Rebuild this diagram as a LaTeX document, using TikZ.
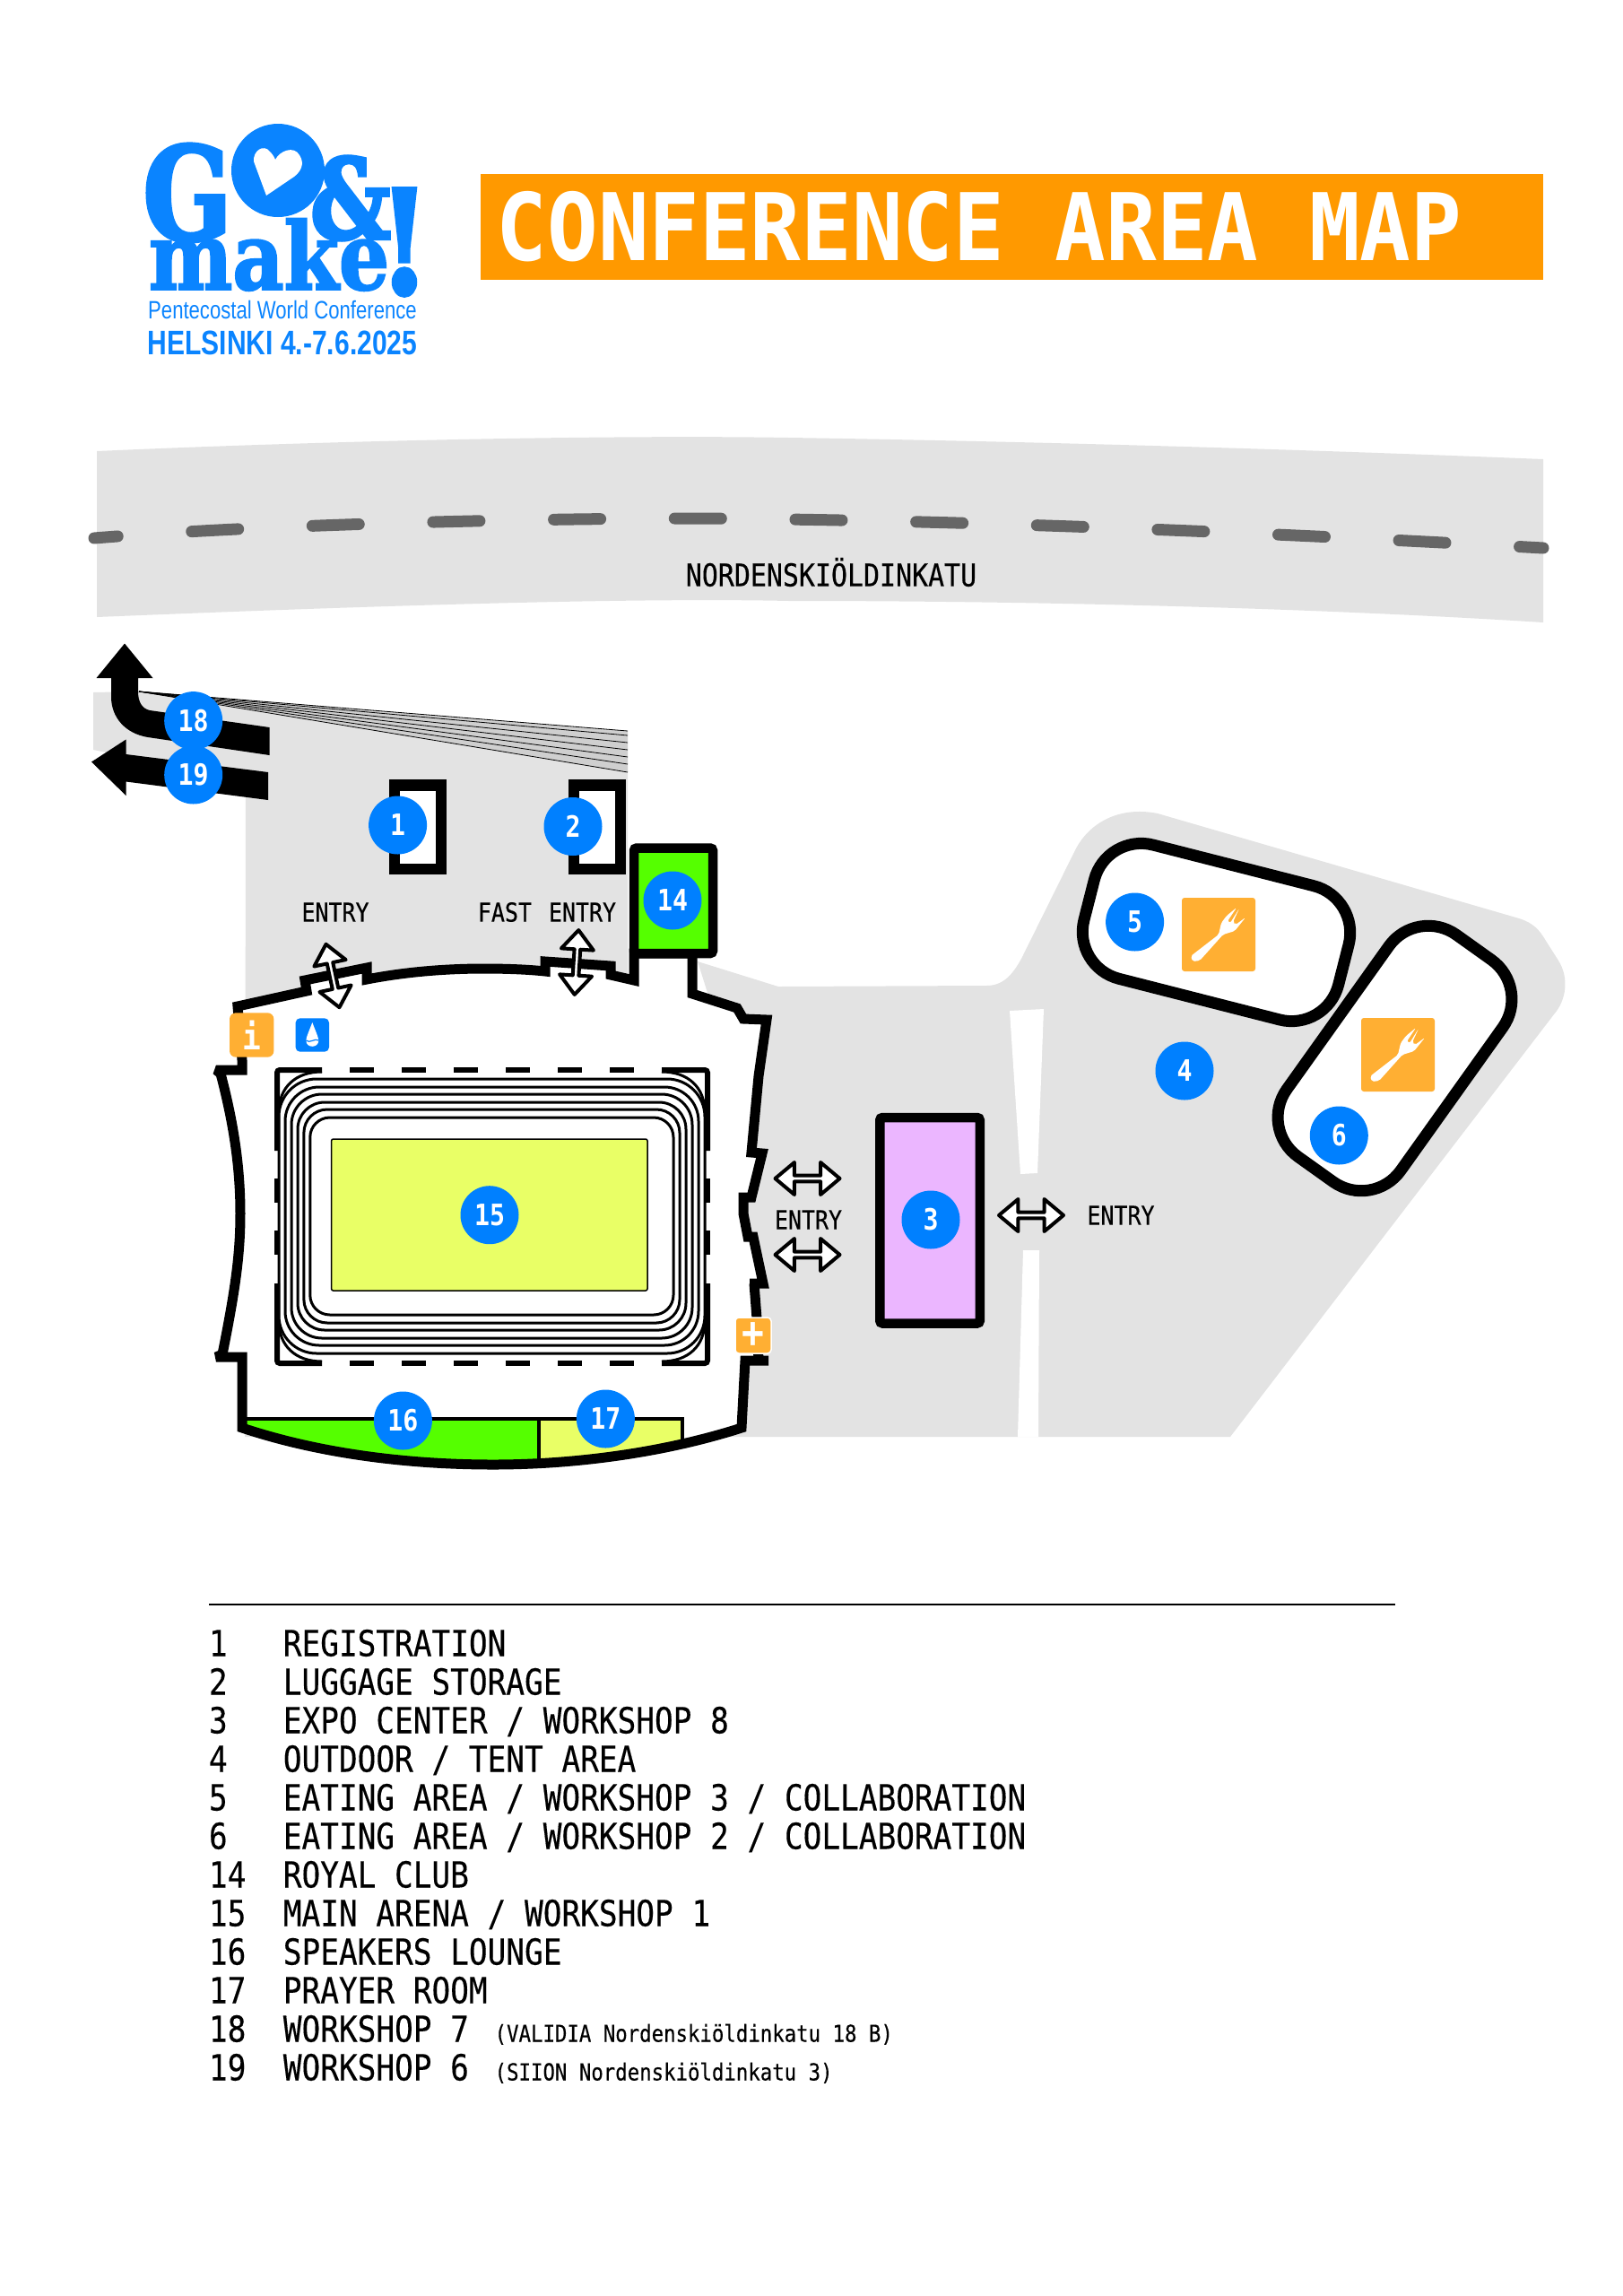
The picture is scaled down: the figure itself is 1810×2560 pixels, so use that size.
\documentclass[tikz,border=0pt]{standalone}
\usepackage{fontspec}
\usetikzlibrary{shapes.arrows}
\newfontfamily\mapfont[FakeStretch=0.86, UprightFeatures={FakeBold=0.3}]{DejaVu Sans Mono}
\newfontfamily\titlefont[FakeStretch=0.905]{DejaVu Sans Mono Bold}
\newfontfamily\logoserif[FakeStretch=0.8,FakeBold=3]{DejaVu Serif Bold}
\newfontfamily\logomake[FakeStretch=0.85,FakeBold=2]{DejaVu Serif Bold}
\newfontfamily\logosans[FakeStretch=0.79]{Liberation Sans}
\definecolor{mapblue}{HTML}{0080FF}
\definecolor{logoblue}{HTML}{0A84FF}
\definecolor{ground}{HTML}{E3E3E3}
\definecolor{fangray}{HTML}{CFCFCF}
\definecolor{roadline}{HTML}{666666}
\definecolor{titleorange}{HTML}{FF9900}
\definecolor{iconorange}{HTML}{FFAF33}
\definecolor{lawngreen}{HTML}{55FF00}
\definecolor{fieldyellow}{HTML}{E9FF66}
\definecolor{expopurple}{HTML}{EBB6FF}
\newcommand{\markerfont}{\mapfont\bfseries\fontsize{16.4}{18}\selectfont}
\newcommand{\entryfont}{\mapfont\fontsize{14.5}{16}\selectfont}
\newcommand{\legendfont}{\mapfont\fontsize{20}{24}\selectfont}
\newcommand{\smallfont}{\mapfont\fontsize{13}{16}\selectfont}
\newcommand{\arenawall}{(265,1122) -- (342,1105) -- (340,1093) -- (409,1079) -- (409,1092) .. controls (450,1084) and (495,1080) .. (540,1080) .. controls (565,1080) and (590,1081) .. (608,1083) -- (608,1072) -- (681,1077) -- (681,1087) -- (707,1093) -- (707,1063) -- (772,1063) -- (772,1108) -- (822,1124) -- (829,1136) -- (855,1137) -- (846,1200) -- (838,1285) -- (850,1286) -- (838,1335) -- (829,1335) -- (829,1353) -- (834,1379) -- (840,1379) -- (851,1431) -- (836,1431) -- (841,1431) -- (844,1470) -- (846,1517) -- (857,1517) -- (831,1517) -- (827,1592) .. controls (740,1620) and (640,1633) .. (550,1633) .. controls (460,1633) and (360,1622) .. (270,1592) -- (270,1513) -- (241,1513) -- (248,1510) .. controls (262,1440) and (268,1400) .. (268,1353) .. controls (268,1300) and (260,1250) .. (246,1197) -- (241,1193) -- (270,1193) -- (270,1182) -- cycle}
\newcommand{\forkpath}{(-31,24) -- (0,0) -- (3,-13) -- (9,-21) -- (20,-30) -- (10,-15) -- (13,-13) -- (23,-29) -- (16,-14) -- (19,-11) -- (30,-19) -- (18,-4) -- (5,0) -- (-21,29) -- (-29,30) -- cycle}
\tikzstyle{marker} = [circle, fill=mapblue, text=white, minimum size=32.5pt, inner sep=0pt, font=\markerfont]
\tikzstyle{entrytext} = [inner sep=0pt, font=\entryfont]
\tikzstyle{legend} = [inner sep=0pt, text width=460pt, text height=16pt, text depth=1.5pt, font=\legendfont, execute at begin node={\spaceskip=0pt\relax}]
\tikzstyle{dblarrow} = [double arrow, draw=black, fill=white, line width=2pt, line join=round, inner sep=0pt, minimum height=36pt, minimum width=18pt, double arrow head extend=4.4pt, double arrow tip angle=80]
\tikzstyle{building} = [rectangle, draw=black, line width=5.25pt, rounded corners=1.5pt, inner sep=0pt]
\tikzstyle{eatarea} = [rectangle, draw=black, fill=white, line width=6.5pt, rounded corners=27pt, inner sep=0pt]
\tikzstyle{foodicon} = [rectangle, fill=iconorange, rounded corners=1.5pt, minimum size=41pt, inner sep=0pt]
\tikzstyle{trackline} = [black, line width=1.5pt]
\tikzstyle{frameline} = [black, line width=3pt, rounded corners=1.5pt]
\tikzstyle{framedash} = [black, line width=3pt, dash pattern=on 13.5pt off 15.5pt]

\begin{document}
\begin{tikzpicture}[x=0.5pt, y=-0.5pt, node distance=21.5pt]
\useasboundingbox (0,0) rectangle (1810,2560);

% logo
\node (logoG) [inner sep=0pt, text=logoblue, font=\logoserif\fontsize{72}{72}\selectfont] at (209,215) {G};
\fill[logoblue] (310,190) circle (52);
\fill[white] (283,180) .. controls (282,168) and (294,160) .. (301,169) .. controls (305,173) and (306,176) .. (307,178) .. controls (312,168) and (328,162) .. (334,173) .. controls (340,182) and (336,191) .. (328,197) -- (297,218) -- cycle;
\node (logoAmp) [inner sep=0pt, text=logoblue, font=\logoserif\fontsize{62}{62}\selectfont] at (391,221) {\&};
\node (logoMark) [inner sep=0pt, text=logoblue, font=\logoserif\fontsize{80}{80}\selectfont] at (451,270) {!};
\node (logoMake) [inner sep=0pt, text=logoblue, font=\logomake\fontsize{52}{52}\selectfont] at (300,284) {make};
\node (logoPwc) [inner sep=0pt, text=logoblue, font=\logosans\fontsize{14}{16}\selectfont] at (315,345) {Pentecostal World Conference};
\node (logoCity) [inner sep=0pt, text=logoblue, font=\logosans\bfseries\fontsize{19}{22}\selectfont] at (315,382) {HELSINKI 4.-7.6.2025};

% title
\node (titlebar) [rectangle, fill=titleorange, minimum width=592.5pt, minimum height=59pt, inner sep=0pt] at (1128.5,253) {};
\node (title) [inner sep=0pt, text=white, font=\titlefont\fontsize{52}{60}\selectfont] at (1092,253) {CONFERENCE AREA MAP};

% street
\fill[ground] (108,503) .. controls (400,490) and (700,485) .. (880,488) .. controls (1200,493) and (1500,503) .. (1721,512) -- (1721,694) .. controls (1500,680) and (1200,670) .. (880,670) .. controls (700,666) and (400,676) .. (108,688) -- cycle;
\draw[roadline, line width=6.5pt, line cap=round, dash pattern=on 26pt off 41.35pt, dash phase=12.85pt] (105,600) .. controls (300,584) and (600,578) .. (779,578) .. controls (1100,580) and (1450,596) .. (1721,611);
\node (street) [inner sep=0pt, font=\mapfont\fontsize{17.4}{20}\selectfont] at (927,638) {NORDENSKIÖLDINKATU};

% ground and paths
\fill[ground] (104,772) -- (155,771) -- (700,815) -- (700,1110) -- (790,1110) -- (778,1072) -- (868,1100) -- (1100,1099) .. controls (1120,1099) and (1130,1085) .. (1139,1069) -- (1198,950) .. controls (1212,920) and (1245,898) .. (1291,907) -- (1694,1024) .. controls (1710,1029) and (1717,1037) .. (1724,1049) -- (1738,1071) .. controls (1750,1090) and (1747,1115) .. (1733,1131) -- (1372,1602) -- (273,1602) -- (274,870) -- (104,836) -- cycle;
\fill[white] (1126,1127) -- (1164,1125) -- (1157,1308) -- (1138,1309) -- cycle;
\fill[white] (1141,1394) -- (1159,1394) -- (1158,1602) -- (1135,1602) -- cycle;

% stands fan
\coordinate (fan) at (155,771);
\fill[fangray] (fan) -- (700,815) -- (700,861) -- cycle;
\draw[line width=0.4pt] (fan) -- (700,815);
\draw[line width=0.4pt] (fan) -- (700,820);
\draw[line width=0.4pt] (fan) -- (700,828);
\draw[line width=0.4pt] (fan) -- (700,836);
\draw[line width=0.4pt] (fan) -- (700,844);
\draw[line width=0.4pt] (fan) -- (700,852);
\draw[line width=0.4pt] (fan) -- (700,861);

% arrows to workshops
\fill[black] (300.5,811) -- (167,792) .. controls (158,790) and (154,782) .. (154,771) -- (154,756) -- (170.5,756) -- (139,717.5) -- (107.5,756) -- (124,756) -- (124,777) .. controls (124,800) and (140,818) .. (165,822) -- (300.5,842) -- cycle;
\fill[black] (299,861) -- (140.5,841) -- (140.5,824.5) -- (102,849.5) -- (140.5,887) -- (140.5,871.5) -- (299,892) -- cycle;

% arena
\fill[white] \arenawall;
\begin{scope}
\clip \arenawall;
\fill[lawngreen] (260,1582) rectangle (601,1650);
\fill[fieldyellow] (601,1582) rectangle (761,1650);
\draw[line width=2pt] (260,1582) -- (761,1582) -- (761,1650);
\draw[line width=2pt] (601,1582) -- (601,1650);
\end{scope}
\draw[line width=5.5pt, line join=miter, miter limit=2] \arenawall;

% track
\draw[trackline, rounded corners=11pt] (345.8,1246) rectangle (751,1466);
\draw[trackline, rounded corners=13pt] (338.9,1237) rectangle (758,1475);
\draw[trackline, rounded corners=15pt] (332,1229) rectangle (765,1483);
\draw[trackline, rounded corners=17pt] (325,1220) rectangle (772,1492);
\draw[trackline, rounded corners=19pt] (318,1212) rectangle (779,1500);
\draw[trackline, rounded corners=21pt] (311,1203) rectangle (786,1509);
\draw[trackline] (359,1195) .. controls (330,1195) and (311,1212) .. (311,1240);
\draw[trackline] (738,1195) .. controls (767,1195) and (786,1212) .. (786,1240);
\draw[trackline] (359,1518) .. controls (330,1518) and (311,1501) .. (311,1473);
\draw[trackline] (738,1518) .. controls (767,1518) and (786,1501) .. (786,1473);
\draw[frameline] (359,1193) -| (309,1283);
\draw[frameline] (738,1193) -| (789,1283);
\draw[frameline] (309,1431) |- (359,1520);
\draw[frameline] (789,1431) |- (738,1520);
\draw[framedash] (390.4,1193) -- (706.6,1193);
\draw[framedash] (390.4,1520) -- (706.6,1520);
\draw[framedash] (309,1314) -- (309,1399);
\draw[framedash] (789,1314) -- (789,1399);
\draw[fill=fieldyellow, line width=0.75pt, rounded corners=1pt] (369.6,1270) rectangle (722,1439);

% buildings
\node (royal) [building, fill=lawngreen, minimum width=44pt, minimum height=58.75pt] at (751,1004.25) {};
\node (expo) [building, fill=expopurple, minimum width=55.75pt, minimum height=114.75pt] at (1037,1360.75) {};
\node (desk1) [rectangle, draw=black, fill=white, line width=6.25pt, inner sep=0pt, minimum width=26pt, minimum height=46.75pt] at (466,922.25) {};
\node (desk2) [rectangle, draw=black, fill=white, line width=6.25pt, inner sep=0pt, minimum width=26pt, minimum height=46.75pt] at (666,922.25) {};
\node (eat5) [eatarea, minimum width=146.4pt, minimum height=77pt, rotate=-14.3] at (1356.5,1039.5) {};
\node (eat6) [eatarea, minimum width=152pt, minimum height=78pt, rotate=54.5] at (1555.5,1180) {};

% icons
\node (food5) [foodicon] at (1359,1042) {};
\node (food6) [foodicon] at (1559,1176) {};
\fill[white, rounded corners=1pt, shift={(food5.center)}] \forkpath;
\fill[white, rounded corners=1pt, shift={(food6.center)}] \forkpath;
\node (info) [rectangle, fill=iconorange, rounded corners=3.5pt, minimum size=24.7pt, inner sep=0pt, text=white, font=\mapfont\bfseries\fontsize{20}{20}\selectfont] at (280.7,1154) {i};
\node (water) [rectangle, fill=mapblue, rounded corners=2.5pt, minimum size=18.7pt, inner sep=0pt] at (348.3,1154) {};
\fill[white, shift={(water.center)}] (0,-14) .. controls (3,-6) and (7,3) .. (7,6) .. controls (7,15) and (-7,15) .. (-7,6) .. controls (-7,3) and (-3,-6) .. (0,-14) -- cycle;
\draw[mapblue, line width=0.6pt, shift={(water.center)}] (-7,6) .. controls (-3,10) and (3,3) .. (7,6);
\node (aid) [rectangle, draw=white, line width=0.75pt, fill=iconorange, rounded corners=2pt, minimum size=20pt, inner sep=0pt, text=white, font=\mapfont\bfseries\fontsize{24}{24}\selectfont] at (840,1489) {+};

% entry arrows
\node (arrow1) [dblarrow, rotate=102] at (371,1088) {};
\node (arrow2) [dblarrow, rotate=86.4] at (643,1073) {};
\node (arrow3) [dblarrow] at (900.5,1314) {};
\node (arrow4) [dblarrow] at (900.5,1399) {};
\node (arrow5) [dblarrow] at (1150,1355) {};
\node (entry1) [entrytext] at (374,1017) {ENTRY};
\node (entry2) [entrytext] at (610,1017) {FAST\hspace{2pt} ENTRY};
\node (entry3) [entrytext] at (901.5,1360) {ENTRY};
\node (entry4) [entrytext] at (1250,1355) {ENTRY};

% markers
\node (m1) [marker] at (443.6,920) {1};
\node (m2) [marker] at (639,921.5) {2};
\node (m3) [marker] at (1038,1360) {3};
\node (m4) [marker] at (1321,1194) {4};
\node (m5) [marker] at (1265.6,1028) {5};
\node (m6) [marker] at (1493.3,1266) {6};
\node (m14) [marker] at (750,1004) {14};
\node (m15) [marker] at (546,1354.7) {15};
\node (m16) [marker] at (449.4,1584) {16};
\node (m17) [marker] at (675.4,1582) {17};
\node (m18) [marker] at (215.7,803.6) {18};
\node (m19) [marker] at (215.7,864) {19};

% legend
\draw[line width=1pt] (233,1788.5) -- (1556,1788.5);
\node (leg1) [legend] at (693,1832) {1~~~REGISTRATION};
\node (leg2) [legend, below of=leg1] {2~~~LUGGAGE STORAGE};
\node (leg3) [legend, below of=leg2] {3~~~EXPO CENTER / WORKSHOP 8};
\node (leg4) [legend, below of=leg3] {4~~~OUTDOOR / TENT AREA};
\node (leg5) [legend, below of=leg4] {5~~~EATING AREA / WORKSHOP 3 / COLLABORATION};
\node (leg6) [legend, below of=leg5] {6~~~EATING AREA / WORKSHOP 2 / COLLABORATION};
\node (leg14) [legend, below of=leg6] {14~~ROYAL CLUB};
\node (leg15) [legend, below of=leg14] {15~~MAIN ARENA / WORKSHOP 1};
\node (leg16) [legend, below of=leg15] {16~~SPEAKERS LOUNGE};
\node (leg17) [legend, below of=leg16] {17~~PRAYER ROOM};
\node (leg18) [legend, below of=leg17] {18~~WORKSHOP 7~\hspace{4pt}{\smallfont (VALIDIA Nordenskiöldinkatu 18 B)}};
\node (leg19) [legend, below of=leg18] {19~~WORKSHOP 6~\hspace{4pt}{\smallfont (SIION Nordenskiöldinkatu 3)}};

\end{tikzpicture}
\end{document}
